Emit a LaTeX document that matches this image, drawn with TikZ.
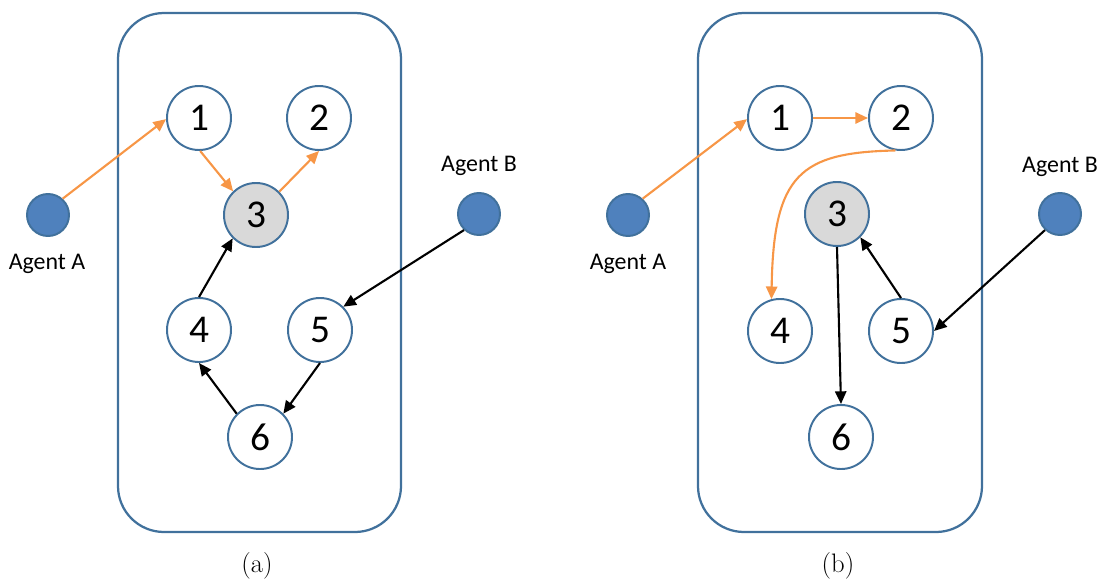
\documentclass[tikz,border=0pt]{standalone}
\usepackage{fontspec}
\newfontfamily\calib{Carlito}
\usetikzlibrary{arrows.meta}
\definecolor{edgeblue}{HTML}{41719C}
\definecolor{agentblue}{HTML}{4F81BD}
\definecolor{stategray}{HTML}{D9D9D9}
\definecolor{walkorange}{HTML}{F79646}
\begin{document}
\begin{tikzpicture}[x=0.025cm, y=-0.025cm,
  state/.style={circle, draw=edgeblue, line width=1.4pt, fill=white,
    minimum size=1.6cm, inner sep=0pt, font=\calib\fontsize{28}{30}\selectfont},
  visited/.style={state, fill=stategray},
  agent/.style={circle, draw=edgeblue, line width=1.4pt, fill=agentblue,
    minimum size=1.05cm, inner sep=0pt},
  agentlabel/.style={font=\calib\fontsize{17}{19}\selectfont, inner sep=0pt},
  panel/.style={draw=edgeblue, line width=1.6pt, rounded corners=1.15cm},
  caption/.style={font=\fontsize{19}{22}\selectfont, inner sep=0pt},
  walkA/.style={draw=walkorange, line width=1.5pt, -{Triangle[length=9pt,width=8pt]}},
  walkB/.style={draw=black, line width=1.5pt, -{Triangle[length=9pt,width=8pt]}}]
\useasboundingbox (0,0) rectangle (1107,585);

% ---------- panel (a) ----------
\draw[panel] (118,13) rectangle (401,532);
\node[state]   (a1) at (199,118) {1};
\node[state]   (a2) at (319,118) {2};
\node[visited] (a3) at (256,215) {3};
\node[state]   (a4) at (199,330) {4};
\node[state]   (a5) at (320,330) {5};
\node[state]   (a6) at (260,437) {6};
\node[agent]   (aA) at (48,215) {};
\node[agent]   (aB) at (479,214) {};
\node[agentlabel] (aAl) at (47,264) {Agent A};
\node[agentlabel] (aBl) at (479,166) {Agent B};
\node[caption] (capa) at (257,566) {(a)};

\draw[walkA] (aA.48) -- (a1.182);
\draw[walkA] (a1.-88) -- (a3.134);
\draw[walkA] (a3.45) -- (a2.-90);
\draw[walkB] (aB.227) -- (a5.45);
\draw[walkB] (a5.-90) -- (a6.45);
\draw[walkB] (a6.135) -- (a4.-90);
\draw[walkB] (a4.90) -- (a3.225);

% ---------- panel (b) ----------
\draw[panel] (698,13) rectangle (982,532);
\node[state]   (b1) at (780,118) {1};
\node[state]   (b2) at (901,118) {2};
\node[visited] (b3) at (837,214) {3};
\node[state]   (b4) at (780,331) {4};
\node[state]   (b5) at (901,331) {5};
\node[state]   (b6) at (841,437) {6};
\node[agent]   (bA) at (628,215) {};
\node[agent]   (bB) at (1060,214) {};
\node[agentlabel] (bAl) at (628,264) {Agent A};
\node[agentlabel] (bBl) at (1060,167) {Agent B};
\node[caption] (capb) at (838,566) {(b)};

\draw[walkA] (bA.48) -- (b1.182);
\draw[walkA] (b1.0) -- (b2.180);
\draw[walkA] (b2.260) .. controls +(-95,2) and +(2,-125) .. (b4.105);
\draw[walkB] (bB.227) -- (b5.0);
\draw[walkB] (b5.90) -- (b3.-45);
\draw[walkB] (b3.-90) -- (b6.90);
\end{tikzpicture}
\end{document}
